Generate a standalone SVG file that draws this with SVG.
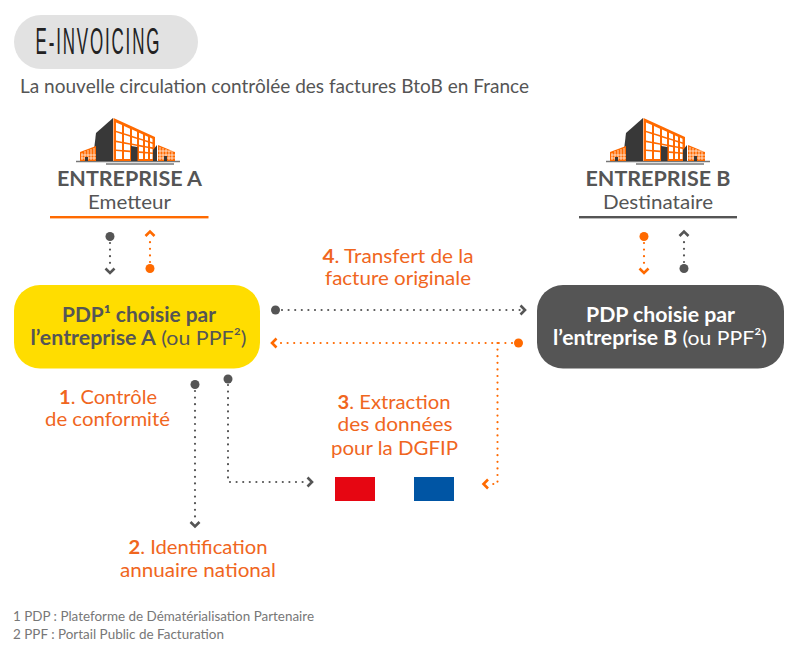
<svg xmlns="http://www.w3.org/2000/svg" width="800" height="668" viewBox="0 0 800 668">
<style>
text{font-family:Lato,"Open Sans","Liberation Sans",sans-serif}
.c{text-anchor:middle}
.or{fill:#f0661e;font-size:19.500px}
.b{font-weight:700}
.g{fill:#555555}
.ln{fill:none;stroke-width:2.2;stroke-linecap:round;stroke-dasharray:0 6.6}
.gl{stroke:#555555}.ol{stroke:#ff6a00}
.ch{fill:none;stroke-width:2.6}
.gd{fill:#555555}.od{fill:#ff6a00}
</style>
<defs>
<g id="bld">
<path d="M76 161.500H180" stroke="#777777" stroke-width="1.500"/>
<path d="M106 164H174" stroke="#999999" stroke-width="2"/>
<path d="M96 133L113 118V161H94V150Z" fill="#383838"/>
<path d="M113.500 118L155 137V161H113.500Z" fill="#ff6a00"/>
<path fill="#ffffff" d="M116 122.400L122 125.100V132.600L116 130.700ZM124 126L130 128.700V135.100L124 133.200ZM132 129.600L137 131.800V137.400L132 135.800ZM139 132.700L143 134.500V139.200L139 138ZM145 135.400L148 136.800V140.800L145 139.900ZM150 137.600L152.500 138.800V142.300L150 141.500ZM116 132.300L122 134.200V141.700L116 140.600ZM124 134.800L130 136.700V143.200L124 142.100ZM132 137.400L137 139V144.400L132 143.500ZM139 139.600L143 140.800V145.600L139 144.800ZM145 141.500L148 142.400V146.500L145 145.900ZM150 143.100L152.500 143.900V147.300L150 146.800ZM116 142.200L122 143.300V150L116 149.500ZM124 143.700L130 144.800V150.600L124 150.100ZM132 145.100L137 146V151.100L132 150.700ZM139 146.400L143 147.200V151.600L139 151.300ZM145 147.500L148 148.100V152L145 151.800ZM150 148.400L152.500 148.900V152.400L150 152.200ZM116 151.100L122 151.600V159H116ZM124 151.700L130 152.200V159H124ZM139 152.900L143 153.200V159H139ZM145 153.400L148 153.600V159H145ZM150 153.800L152.500 154V159H150Z"/>
<path d="M131 146L137.500 147V161H131Z" fill="#383838"/>
<path d="M80 161V152L96 146V161Z" fill="#ff6a00"/>
<path d="M82 153V160M85 151V160M88 150V160M91 149V160M94 148V160M81 155H96M81 158H96" stroke="#ffffff" stroke-width="0.700" fill="none"/>
<path d="M85 157h3v4h-3z" fill="#383838"/>
<path d="M153 150L157 145V161H153Z" fill="#383838"/>
<path d="M158 145L175 152V161H158Z" fill="#ff6a00"/>
<path d="M160 147V160M163 148V160M166 149V160M169 151V160M172 152V160M158 151H175M158 155H175M158 158H175" stroke="#ffffff" stroke-width="0.700" fill="none"/>
<path d="M164 156h3v5h-3z" fill="#383838"/>
</g>
</defs>

<g id="title">
<rect x="14" y="15" width="184" height="54" rx="27" fill="#e2e2e2"/>
<text transform="translate(35.500 54) scale(.459 1)" font-size="37" letter-spacing="4" fill="#222222" style="font-family:'Liberation Sans',sans-serif">E-INVOICING</text>
</g>
<text id="subtitle" x="20" y="93" font-size="19" fill="#555555" textLength="509" lengthAdjust="spacingAndGlyphs">La nouvelle circulation contrôlée des factures BtoB en France</text>

<g id="entreprise-a">
<use href="#bld"/>
<text class="c b g" x="129.500" y="186" font-size="20.500" textLength="145" lengthAdjust="spacingAndGlyphs">ENTREPRISE A</text>
<text class="c g" x="129.500" y="209" font-size="19" textLength="83" lengthAdjust="spacingAndGlyphs">Emetteur</text>
<rect x="50" y="216" width="158.500" height="2.400" fill="#ff6a00"/>
</g>

<g id="entreprise-b">
<use href="#bld" x="530"/>
<text class="c b g" x="658" y="186" font-size="20.500" textLength="145" lengthAdjust="spacingAndGlyphs">ENTREPRISE B</text>
<text class="c g" x="658" y="209" font-size="19" textLength="110" lengthAdjust="spacingAndGlyphs">Destinataire</text>
<rect x="579" y="216" width="158" height="2.400" fill="#555555"/>
</g>

<g id="pdp-a">
<rect x="14" y="285" width="246" height="83.500" rx="26" fill="#ffdd00"/>
<text class="c b g" x="139" y="322" font-size="20" textLength="154" lengthAdjust="spacingAndGlyphs">PDP¹ choisie par</text>
<text class="c g" x="138.500" y="345" font-size="20" textLength="216" lengthAdjust="spacingAndGlyphs"><tspan class="b">l’entreprise A</tspan> (ou PPF²)</text>
</g>

<g id="pdp-b">
<rect x="537" y="285" width="247" height="83.500" rx="26" fill="#555555"/>
<text class="c b" x="660.500" y="322" font-size="20" fill="#ffffff" textLength="149" lengthAdjust="spacingAndGlyphs">PDP choisie par</text>
<text class="c" x="660" y="345" font-size="20" fill="#ffffff" textLength="214" lengthAdjust="spacingAndGlyphs"><tspan class="b">l’entreprise B</tspan> (ou PPF²)</text>
</g>

<g id="drapeau">
<rect x="335" y="477" width="40" height="24" fill="#e60612"/>
<rect x="414" y="477" width="40" height="24" fill="#0055a4"/>
</g>

<g id="connectors">
<circle class="gd" cx="110" cy="236.500" r="4.500"/>
<path class="ln gl" d="M110 243V269"/>
<path class="ch" stroke="#555555" d="M105.500 268.500L110 273L114.500 268.500"/>
<circle class="od" cx="150" cy="268.500" r="4.500"/>
<path class="ln ol" d="M150 262V236"/>
<path class="ch" stroke="#ff6a00" d="M145.500 236L150 231.500L154.500 236"/>

<circle class="od" cx="644" cy="236.500" r="4.500"/>
<path class="ln ol" d="M644 243V269"/>
<path class="ch" stroke="#ff6a00" d="M639.500 268.500L644 273L648.500 268.500"/>
<circle class="gd" cx="684" cy="268.500" r="4.500"/>
<path class="ln gl" d="M684 262V236"/>
<path class="ch" stroke="#555555" d="M679.500 236L684 231.500L688.500 236"/>

<circle class="gd" cx="275.500" cy="310" r="4.500"/>
<path class="ln gl" d="M282 310H522"/>
<path class="ch" stroke="#555555" d="M520.500 305.500L525 310L520.500 314.500"/>

<circle class="od" cx="518.500" cy="343" r="4.500"/>
<path class="ln ol" d="M512 343H275"/>
<path class="ch" stroke="#ff6a00" d="M276.500 338.500L272 343L276.500 347.500"/>
<path class="ln ol" d="M497.500 343V484H487"/>
<path class="ch" stroke="#ff6a00" d="M488 479.500L483.500 484L488 488.500"/>

<circle class="gd" cx="195" cy="384.500" r="4.500"/>
<path class="ln gl" d="M195 391V522"/>
<path class="ch" stroke="#555555" d="M190.500 522L195 526.500L199.500 522"/>

<circle class="gd" cx="228" cy="379" r="4.500"/>
<path class="ln gl" d="M228 385V482H309"/>
<path class="ch" stroke="#555555" d="M307.500 477.500L312 482L307.500 486.500"/>
</g>

<g id="labels">
<text class="c or" x="398" y="262.500" textLength="151" lengthAdjust="spacingAndGlyphs"><tspan class="b">4</tspan>. Transfert de la</text>
<text class="c or" x="398" y="284.500" textLength="146" lengthAdjust="spacingAndGlyphs">facture originale</text>
<text class="c or" x="108" y="404" textLength="98" lengthAdjust="spacingAndGlyphs"><tspan class="b">1</tspan>. Contrôle</text>
<text class="c or" x="107.500" y="426" textLength="125" lengthAdjust="spacingAndGlyphs">de conformité</text>
<text class="c or" x="394" y="408.500" textLength="113" lengthAdjust="spacingAndGlyphs"><tspan class="b">3</tspan>. Extraction</text>
<text class="c or" x="395" y="431" textLength="115" lengthAdjust="spacingAndGlyphs">des données</text>
<text class="c or" x="394.500" y="455" textLength="127" lengthAdjust="spacingAndGlyphs">pour la DGFIP</text>
<text class="c or" x="198" y="554" textLength="139" lengthAdjust="spacingAndGlyphs"><tspan class="b">2</tspan>. Identification</text>
<text class="c or" x="198" y="577" textLength="156" lengthAdjust="spacingAndGlyphs">annuaire national</text>
</g>

<g id="notes">
<text x="13" y="621" font-size="13" fill="#777777" textLength="301" lengthAdjust="spacingAndGlyphs">1 PDP : Plateforme de Dématérialisation Partenaire</text>
<text x="13" y="639" font-size="13" fill="#777777" textLength="211" lengthAdjust="spacingAndGlyphs">2 PPF : Portail Public de Facturation</text>
</g>
</svg>
